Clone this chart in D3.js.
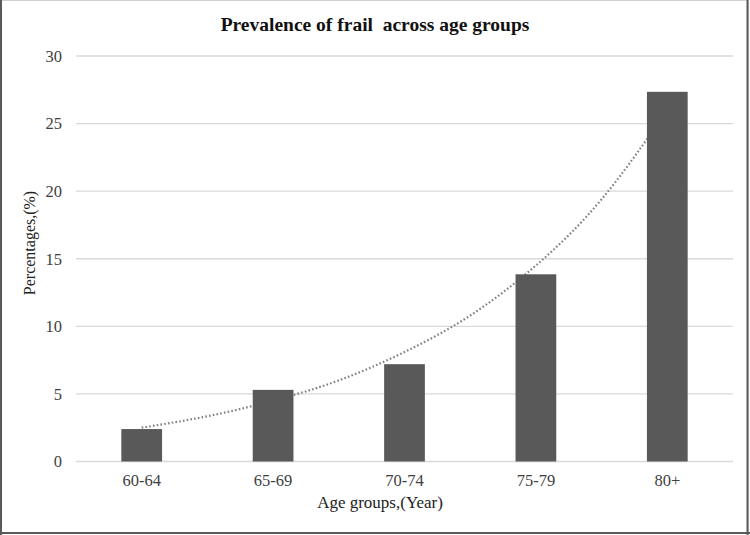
<!DOCTYPE html>
<html>
<head>
<meta charset="utf-8">
<script src="https://cdn.jsdelivr.net/npm/d3@7"></script>
<style>
  html, body { margin: 0; padding: 0; background: #fff; }
  svg { display: block; }
  text { font-family: "Liberation Serif", "Times New Roman", serif; }
</style>
</head>
<body>
<svg id="chart" width="750" height="535"></svg>
<script>
const categories = ["60-64", "65-69", "70-74", "75-79", "80+"];
const values = [2.4, 5.3, 7.2, 13.85, 27.35];
const yTicks = [0, 5, 10, 15, 20, 25, 30];
// exponential trendline at half-category steps
const trendPos = [0, 0.5, 1, 1.5, 2, 2.5, 3, 3.5, 4];
const trendVals = [2.5, 3.35, 4.5, 6.0, 8.1, 10.8, 14.5, 19.4, 26.0];

const W = 750, H = 535;
const m = { left: 76, right: 17, top: 56, bottom: 73.5 };
const svg = d3.select("#chart");

// frame
svg.append("rect").attr("x", 0.5).attr("y", 0.5).attr("width", W - 2).attr("height", H - 2)
  .attr("fill", "#fff").attr("stroke", "#d0d0d0").attr("stroke-width", 1);
svg.append("line").attr("x1", 1).attr("x2", 1).attr("y1", 0).attr("y2", H).attr("stroke", "#5a5a5a").attr("stroke-width", 2);
svg.append("line").attr("x1", W - 2.5).attr("x2", W - 2.5).attr("y1", 0).attr("y2", H).attr("stroke", "#5a5a5a").attr("stroke-width", 2);
svg.append("line").attr("x1", 0).attr("x2", W).attr("y1", H - 2).attr("y2", H - 2).attr("stroke", "#5a5a5a").attr("stroke-width", 2);

const x = d3.scaleBand().domain(categories).range([m.left, W - m.right]).paddingInner(0.69).paddingOuter(0.345);
const y = d3.scaleLinear().domain([0, 30]).range([H - m.bottom, m.top]);
const xc = d3.scaleLinear().domain([0, categories.length - 1])
  .range([x(categories[0]) + x.bandwidth() / 2, x(categories[categories.length - 1]) + x.bandwidth() / 2]);

// gridlines
svg.append("g").selectAll("line").data(yTicks).join("line")
  .attr("x1", m.left).attr("x2", W - m.right)
  .attr("y1", d => y(d)).attr("y2", d => y(d))
  .attr("stroke", "#d9d9d9").attr("stroke-width", 1.3);

// y tick labels
svg.append("g").selectAll("text").data(yTicks).join("text")
  .attr("x", 62).attr("y", d => y(d)).attr("dy", "0.35em")
  .attr("text-anchor", "end").attr("font-size", 16.5).attr("fill", "#404040")
  .text(d => d);

// trendline (behind bars)
const line = d3.line().x((d, i) => xc(trendPos[i])).y(d => y(d)).curve(d3.curveNatural);
svg.append("path").datum(trendVals).attr("d", line)
  .attr("fill", "none").attr("stroke", "#808080").attr("stroke-width", 2.2)
  .attr("stroke-dasharray", "1.6,2.2");

// bars
svg.append("g").selectAll("rect").data(values).join("rect")
  .attr("x", (d, i) => x(categories[i])).attr("width", x.bandwidth())
  .attr("y", d => y(d)).attr("height", d => y(0) - y(d))
  .attr("fill", "#595959");

// x tick labels
svg.append("g").selectAll("text").data(categories).join("text")
  .attr("x", d => x(d) + x.bandwidth() / 2).attr("y", 486)
  .attr("text-anchor", "middle").attr("font-size", 16.5).attr("fill", "#404040")
  .text(d => d);

// titles
svg.append("text").attr("x", 375).attr("y", 31).attr("text-anchor", "middle")
  .attr("font-size", 19.5).attr("font-weight", "bold").attr("fill", "#111")
  .attr("xml:space", "preserve")
  .text("Prevalence of frail  across age groups");
svg.append("text").attr("x", 380).attr("y", 508).attr("text-anchor", "middle")
  .attr("font-size", 17).attr("fill", "#222").text("Age groups,(Year)");
svg.append("text").attr("transform", "translate(35,243) rotate(-90)").attr("text-anchor", "middle")
  .attr("font-size", 16).attr("fill", "#222").text("Percentages,(%)");
</script>
</body>
</html>
